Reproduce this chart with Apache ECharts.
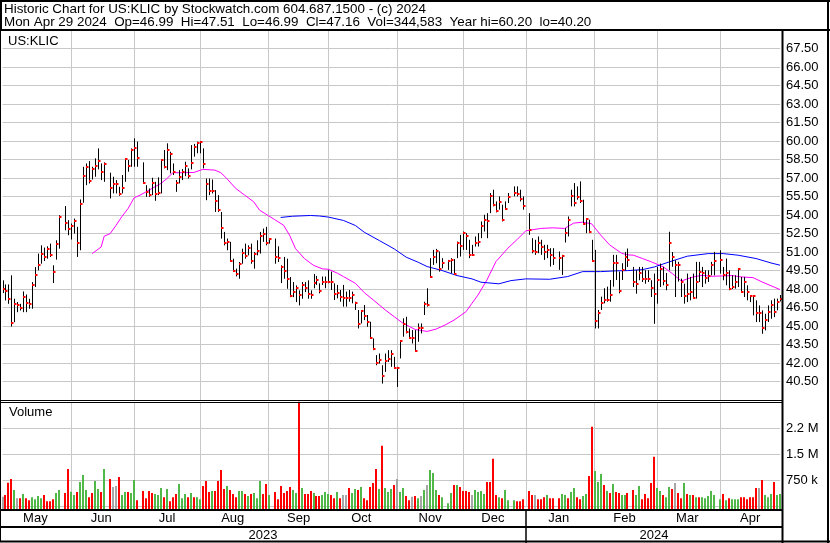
<!DOCTYPE html>
<html><head><meta charset="utf-8">
<script src="https://cdn.jsdelivr.net/npm/echarts@6/dist/echarts.min.js"></script>
<style>html,body{margin:0;padding:0;background:#fff}#c{width:830px;height:543px}</style>
</head><body><div id="c"></div>
<script>
// ---------- DATA ----------
const startDay = [2023, 4, 1];   // May 1 2023
const endDay = [2024, 3, 29];    // Apr 29 2024
const holidays = ['2023-05-29','2023-06-19','2023-07-04','2023-09-04','2023-11-23','2023-12-25','2024-01-01','2024-01-15','2024-02-19','2024-03-29'];
const monthNames = ['Jan','Feb','Mar','Apr','May','Jun','Jul','Aug','Sep','Oct','Nov','Dec'];
const yearLabels = ['2023', '2024'];

const highs = [
 48.70,48.37,48.37,49.11,47.21,46.94,46.80,47.80,47.56,47.21,48.56,49.78,50.87,51.54,51.36,51.46,51.68,49.92,51.95,53.98,54.72,53.58,
 53.31,53.71,53.04,55.26,57.91,58.18,58.37,57.91,58.59,59.40,58.18,58.27,57.43,57.10,56.83,56.29,57.24,58.59,58.46,59.40,60.22,
 59.95,58.27,56.42,56.15,57.02,56.69,57.05,58.51,59.27,59.81,59.13,58.18,56.83,57.64,57.72,58.32,57.78,59.67,59.76,59.95,
 60.00,59.40,56.96,56.96,56.88,56.02,55.61,54.25,52.63,52.09,51.82,50.46,49.65,50.19,51.27,51.68,51.54,51.68,51.00,51.95,52.63,52.90,53.04,
 52.09,52.09,51.46,49.92,50.60,50.46,48.97,48.56,48.29,47.89,48.56,48.56,48.70,47.89,49.22,49.06,48.46,49.01,49.01,49.55,
 49.41,48.46,48.33,47.92,48.33,47.79,47.92,47.79,46.97,46.30,46.30,46.70,45.89,45.34,43.99,42.64,42.77,41.82,42.77,43.04,43.04,42.50,
 41.69,43.86,45.62,45.75,44.80,44.67,44.67,45.21,45.21,46.97,48.06,50.50,51.17,51.25,51.04,50.50,50.36,50.50,50.42,51.85,52.39,
 52.66,52.53,51.99,51.58,52.26,52.53,53.48,54.02,54.15,55.78,56.05,55.10,55.51,54.83,55.10,55.78,56.32,56.32,56.05,55.51,
 54.15,52.12,51.99,52.26,51.99,51.58,51.58,51.31,51.31,51.04,50.77,52.93,53.88,56.05,56.59,56.32,56.73,55.24,53.75,53.61,51.99,
 51.17,46.30,47.38,48.06,48.19,48.73,50.77,50.77,49.41,50.09,51.01,51.28,49.79,49.52,49.79,49.79,49.52,49.52,48.71,49.25,
 49.79,50.06,49.80,49.30,52.64,51.00,50.33,50.20,48.84,48.43,49.25,48.98,49.25,50.20,50.20,49.79,49.52,49.52,50.20,51.01,
 51.14,49.79,50.47,49.52,49.11,49.11,49.65,48.98,48.98,48.30,47.49,47.49,47.08,46.67,46.27,45.99,46.67,47.08,47.22,47.22,47.51
];
const lows = [
 47.67,47.07,46.80,44.96,45.31,46.12,46.26,46.12,46.12,46.40,46.40,48.16,49.51,50.05,50.27,50.46,50.60,48.48,50.38,51.27,52.76,52.36,
 52.01,52.49,50.60,51.14,54.99,56.42,56.56,56.88,57.10,57.70,56.83,56.69,55.34,55.75,55.75,55.56,55.75,56.69,57.51,57.91,57.91,
 57.91,56.56,55.47,55.47,55.61,55.15,55.61,55.75,57.78,57.64,57.37,57.24,55.88,56.56,56.83,57.15,56.96,57.70,58.73,59.00,
 59.00,57.78,55.20,55.61,55.75,54.25,54.25,52.09,51.54,51.14,50.19,49.38,49.02,48.83,50.05,50.46,50.73,50.05,49.65,50.73,50.87,51.82,51.54,
 51.68,50.05,50.19,48.48,48.83,48.02,47.34,47.34,46.94,46.67,47.21,47.75,47.21,47.21,48.06,48.33,47.65,48.33,48.06,48.46,
 47.92,47.11,47.24,46.97,46.57,46.57,46.97,46.84,46.30,44.80,45.21,45.48,44.94,43.99,43.04,41.82,41.96,40.33,41.28,42.09,41.69,41.55,
 40.06,42.37,44.13,44.40,43.99,43.58,42.91,43.72,44.40,45.89,46.57,49.01,49.95,50.09,49.41,49.68,49.55,49.28,49.14,50.50,50.63,
 51.17,51.17,50.50,50.77,51.44,51.44,52.12,52.66,52.12,54.15,54.70,54.21,54.43,53.48,54.43,54.97,55.51,55.51,55.10,54.43,
 52.39,50.90,50.77,50.90,50.77,50.36,50.50,49.82,49.95,49.55,49.14,51.77,52.26,54.70,54.70,55.24,54.97,53.21,52.53,52.53,50.31,
 44.80,44.80,46.30,46.84,46.97,46.97,48.19,48.73,47.65,48.73,49.52,49.79,48.16,47.62,48.71,48.57,48.43,48.57,47.35,45.18,
 46.81,48.16,48.30,47.90,49.52,49.80,47.35,48.60,47.35,46.81,46.94,47.08,47.22,47.22,48.57,48.16,48.43,48.57,49.11,49.11,
 49.25,48.71,48.30,47.90,48.00,48.03,48.16,47.70,47.35,47.08,46.94,45.86,45.32,45.32,44.37,44.64,45.32,45.59,45.72,46.27,46.99
];
const closes = [
 47.99,47.83,47.15,45.28,46.78,46.72,46.45,47.34,46.86,46.78,48.29,49.13,49.95,50.84,50.60,51.25,50.76,49.35,51.63,53.82,53.36,52.87,
 53.09,53.52,51.73,54.88,57.18,57.91,56.75,57.72,57.99,58.40,57.48,58.16,56.21,56.50,56.50,55.72,56.18,58.56,57.99,59.27,59.46,
 58.62,56.61,55.85,55.61,56.61,55.72,55.80,58.46,57.91,59.27,58.92,57.45,56.56,57.10,57.45,57.99,57.15,58.24,59.54,59.86,
 59.92,58.16,56.48,55.93,55.93,55.15,54.39,52.95,51.73,51.82,50.27,49.46,49.19,50.00,50.95,50.65,51.33,50.27,50.81,51.08,52.28,52.44,51.73,
 52.03,50.60,50.51,49.78,49.46,48.83,47.43,47.75,48.05,47.48,48.29,48.10,47.61,47.51,48.52,48.73,47.87,48.60,48.57,48.57,
 48.57,47.57,47.70,47.38,47.30,47.30,47.24,47.51,46.84,45.16,46.25,45.81,45.34,44.05,43.12,42.01,42.23,40.96,42.15,42.34,42.69,41.58,
 41.58,43.80,45.18,44.48,44.05,44.05,42.96,44.86,44.86,46.78,46.70,49.01,50.63,51.09,49.66,50.14,50.31,50.36,49.19,51.74,51.50,
 52.53,52.31,50.77,50.77,51.72,51.80,53.07,53.56,53.53,55.56,54.78,54.29,55.05,53.56,54.51,55.43,55.81,55.70,55.29,54.70,
 52.75,51.12,51.04,51.77,51.44,51.04,51.17,50.77,50.50,50.50,50.69,52.58,53.56,55.56,54.97,55.46,55.16,53.26,53.67,52.66,50.31,
 45.43,46.08,46.89,47.11,47.11,47.51,50.14,50.14,47.87,49.55,50.58,50.33,48.57,48.43,49.30,48.84,48.79,48.79,48.08,47.57,
 48.76,49.65,48.62,48.30,51.74,50.58,49.98,49.98,48.57,47.41,47.57,47.76,47.27,48.57,49.38,49.33,48.90,49.06,49.98,50.28,
 50.39,49.17,49.30,47.97,48.16,48.57,49.63,47.76,48.57,47.76,47.41,47.41,46.05,46.05,44.83,45.52,46.13,46.67,46.13,46.94,47.16
];
// volume in thousands of shares
const volumes = [
 266,315,673,779,460,227,227,344,227,169,256,198,285,227,315,140,140,198,373,460,373,1069,
 411,315,402,692,895,460,256,373,721,489,402,1069,779,547,576,837,315,402,402,373,750,
 169,431,227,431,373,344,315,518,256,489,140,256,344,634,227,344,256,373,256,256,
 198,576,721,402,431,431,721,1040,489,576,460,344,256,431,431,344,285,344,373,227,721,344,634,
 315,402,198,576,373,431,547,460,373,3005,518,344,344,431,373,285,285,315,402,344,
 315,227,402,227,315,315,518,373,489,460,547,227,169,547,663,1069,489,1737,518,402,489,605,
 779,402,518,285,169,266,285,227,285,460,605,1040,953,460,315,256,82,373,605,605,547,
 431,431,402,315,460,402,431,344,692,692,1360,315,256,227,460,169,169,140,140,198,
 431,315,315,198,198,256,315,227,227,227,344,315,227,402,518,256,198,285,344,866,2289,
 1011,692,924,605,431,373,634,402,373,315,315,373,460,315,576,198,344,227,663,1418,
 518,431,315,256,547,489,663,373,227,663,344,315,315,256,256,256,227,285,431,315,
 198,344,169,227,198,198,198,256,256,198,256,256,518,518,750,315,256,344,692,315,345
];
// volume bar colour: g = up, r = down, n = unchanged
const volDir = (
 'nrrrgnrgrrggggrrrrggrr' + 'ggrgggrrggrgrnnrggrgg' + 'rrrrrgggrgrrrgggrgrg' +
 'grrrgrrrrgrrrggrgrgggrr' + 'grrrrrrggrgrrrgrrggg' + 'rrgrnnrggrgrrrrrgrgggr' +
 'nggrrnrgngngggrgggrgr' + 'rrrnggggrrrrgrgggrrr' + 'rrnrrrgrrrggrggrrggrr' +
 'gggrgrgrrggrrggrrrrr' + 'ggrggrnrrgrgrgrggggg' + 'grgrgggrrrrrrnrgggrgg'
).split('');
// moving averages: [weekday slot, value]
const maShort = [[30,50.87],[33,51.41],[34,52.28],[36,52.49],[38,53.17],[40,53.90],[42,54.53],[44,55.39],[46,55.61],[48,55.88],[51,56.29],[53,56.56],[55,56.96],[57,57.43],[60,57.43],[64,57.45],[67,57.70],[71,57.64],[73,57.43],[75,56.96],[78,56.15],[81,55.61],[84,55.07],[86,54.39],[89,53.93],[91,53.63],[94,53.17],[96,52.36],[98,51.27],[101,50.46],[104,49.92],[107,49.63],[109,49.60],[112,49.28],[114,49.01],[118,48.46],[121,47.70],[124,47.11],[128,46.30],[131,45.75],[134,45.21],[138,44.72],[142,44.56],[145,44.75],[148,45.08],[151,45.48],[155,46.16],[157,46.84],[159,47.51],[162,48.73],[165,50.22],[169,51.31],[172,51.99],[175,52.72],[180,52.91],[184,52.96],[188,52.91],[191,53.34],[194,53.42],[197,53.29],[200,52.39],[203,51.58],[207,50.90],[209,50.77],[211,50.74],[214,50.47],[217,50.20],[221,49.79],[224,49.25],[227,48.65],[231,48.98],[234,49.11],[237,49.03],[241,49.06],[244,49.09],[247,48.98],[251,48.92],[254,48.57],[258,48.16],[260,47.95]];
const maLong = [[93,53.80],[97,53.90],[103,53.96],[106,53.92],[109,53.83],[114,53.56],[118,53.15],[121,52.60],[126,51.93],[131,51.25],[135,50.58],[139,50.17],[142,49.82],[147,49.50],[152,49.09],[157,48.82],[160,48.55],[166,48.42],[170,48.68],[175,48.82],[183,48.79],[189,49.01],[194,49.41],[200,49.41],[205,49.47],[209,49.49],[214,49.57],[218,49.79],[224,50.28],[229,50.66],[236,50.87],[241,50.87],[246,50.74],[252,50.47],[257,50.11],[260,49.93]];
const volTickLabels = {750000: '750 k', 1500000: '1.5 M', 2250000: '2.2 M'};

// ---------- BUILD ----------
const pad = n => String(n).padStart(2, '0');
const iso = d => d.getUTCFullYear() + '-' + pad(d.getUTCMonth() + 1) + '-' + pad(d.getUTCDate());
const cats = [];
const endT = Date.UTC(endDay[0], endDay[1], endDay[2]);
for (let d = new Date(Date.UTC(startDay[0], startDay[1], startDay[2])); d.getTime() <= endT; d.setUTCDate(d.getUTCDate() + 1)) {
  const wd = d.getUTCDay();
  if (wd > 0 && wd < 6) cats.push(iso(d));
}
const tradeSlots = cats.map((c, i) => holidays.includes(c) ? -1 : i).filter(i => i >= 0);

// month grid lines: first of month, weekend mapped to previous Friday
const monthLines = [];
for (let y = 2023, m = 5; y < 2024 || m <= 3; m++) {
  if (m > 11) { m = 0; y++; }
  const d = new Date(Date.UTC(y, m, 1));
  while (d.getUTCDay() === 0 || d.getUTCDay() === 6) d.setUTCDate(d.getUTCDate() - 1);
  monthLines.push(cats.indexOf(iso(d)));
  if (y === 2024 && m === 3) break;
}
const bounds = [0].concat(monthLines, [cats.length - 1]);
const monthLabelAt = {};
for (let i = 0; i < bounds.length - 1; i++) {
  const mid = Math.floor((bounds[i] + bounds[i + 1]) / 2);
  const mm = parseInt(cats[mid].slice(5, 7), 10) - 1;
  monthLabelAt[mid] = monthNames[mm];
}
const lineSet = new Set(monthLines);

const priceData = tradeSlots.map((s, i) => [s, highs[i], lows[i], closes[i]]);
const volData = tradeSlots.map((s, i) => [s, volumes[i] * 1000]);
const volColor = {g: '#4fb848', r: '#ff0000', n: '#a6a6a6'};

const FONT = 'Arial, "Liberation Sans", sans-serif';
const chart = echarts.init(document.getElementById('c'), null, {renderer: 'canvas'});
const gridCol = '#c8c8c8';

chart.setOption({
  animation: false,
  backgroundColor: '#fff',
  grid: [
    {left: 2.5, right: 50, top: 30, height: 370},
    {left: 2.5, right: 50, top: 402, height: 104}
  ],
  xAxis: [0, 1].map(k => ({
    type: 'category', gridIndex: k, data: cats, boundaryGap: false,
    axisLine: {show: false}, axisTick: {show: false},
    axisLabel: k === 1 ? {
      show: true, interval: (idx) => monthLabelAt[idx] !== undefined,
      formatter: (v, idx) => monthLabelAt[idx] || '',
      color: '#000', fontSize: 13, fontFamily: FONT, margin: 6
    } : {show: false},
    splitLine: {show: true, interval: (idx) => lineSet.has(idx), lineStyle: {color: gridCol, width: 1}}
  })),
  yAxis: [
    {type: 'value', gridIndex: 0, position: 'right', min: 39, max: 69, interval: 1.5,
     axisLine: {show: false}, axisTick: {show: false},
     axisLabel: {color: '#000', fontSize: 13, fontFamily: FONT, margin: 6,
       formatter: v => (v <= 39.01 || v >= 68.99) ? '' : v.toFixed(2)},
     splitLine: {lineStyle: {color: gridCol, width: 1}}},
    {type: 'value', gridIndex: 1, position: 'right', min: 0, max: 3000000, interval: 750000,
     axisLine: {show: false}, axisTick: {show: false},
     axisLabel: {color: '#000', fontSize: 13, fontFamily: FONT, margin: 6,
       formatter: v => volTickLabels[v] || ''},
     splitLine: {lineStyle: {color: gridCol, width: 1}}}
  ],
  series: [
    {type: 'line', xAxisIndex: 0, yAxisIndex: 0, data: maShort, symbol: 'none', silent: true,
     lineStyle: {color: '#ff00ff', width: 1}, z: 3},
    {type: 'line', xAxisIndex: 0, yAxisIndex: 0, data: maLong, symbol: 'none', silent: true,
     lineStyle: {color: '#0000ff', width: 1}, z: 3},
    {type: 'custom', xAxisIndex: 0, yAxisIndex: 0, data: priceData, z: 4,
     encode: {x: 0, y: [1, 2, 3]},
     renderItem: (params, api) => {
       const x = api.value(0);
       const pH = api.coord([x, api.value(1)]);
       const pL = api.coord([x, api.value(2)]);
       const pC = api.coord([x, api.value(3)]);
       const cx = Math.round(pH[0]) + 0.5;
       return {type: 'group', children: [
         {type: 'line', shape: {x1: cx, y1: pH[1], x2: cx, y2: pL[1]}, style: {stroke: '#000', lineWidth: 1}},
         {type: 'rect', shape: {x: cx - 0.5, y: Math.round(pC[1]) - 1, width: 2.5, height: 2}, style: {fill: '#ff0000'}}
       ]};
     }},
    {type: 'custom', xAxisIndex: 1, yAxisIndex: 1, data: volData, z: 4,
     encode: {x: 0, y: 1},
     renderItem: (params, api) => {
       const x = api.value(0);
       const pT = api.coord([x, api.value(1)]);
       const p0 = api.coord([x, 0]);
       const cx = Math.round(pT[0]);
       return {type: 'rect', shape: {x: cx - 1, y: pT[1], width: 2, height: p0[1] + 3 - pT[1]},
               style: {fill: volColor[volDir[params.dataIndex]] || '#a6a6a6'}};
     }}
  ],
  graphic: [
    {type: 'rect', shape: {x: 0.5, y: 0.5, width: 828, height: 541}, style: {fill: 'none', stroke: '#000', lineWidth: 1}, z: 100},
    {type: 'line', shape: {x1: 0, y1: 1, x2: 830, y2: 1}, style: {stroke: '#000', lineWidth: 2}, z: 100},
    {type: 'line', shape: {x1: 1, y1: 0, x2: 1, y2: 30}, style: {stroke: '#000', lineWidth: 2}, z: 100},
    {type: 'line', shape: {x1: 828, y1: 0, x2: 828, y2: 543}, style: {stroke: '#000', lineWidth: 2}, z: 100},
    {type: 'line', shape: {x1: 0, y1: 30, x2: 830, y2: 30}, style: {stroke: '#000', lineWidth: 2}, z: 100},
    {type: 'line', shape: {x1: 782.5, y1: 30, x2: 782.5, y2: 543}, style: {stroke: '#000', lineWidth: 2}, z: 100},
    {type: 'line', shape: {x1: 0, y1: 400.5, x2: 782, y2: 400.5}, style: {stroke: '#000', lineWidth: 1}, z: 100},
    {type: 'line', shape: {x1: 0, y1: 402.5, x2: 782, y2: 402.5}, style: {stroke: '#000', lineWidth: 1}, z: 100},
    {type: 'line', shape: {x1: 0, y1: 510, x2: 782, y2: 510}, style: {stroke: '#000', lineWidth: 2}, z: 100},
    {type: 'line', shape: {x1: 0, y1: 527, x2: 782, y2: 527}, style: {stroke: '#000', lineWidth: 2}, z: 100},
    {type: 'line', shape: {x1: 0, y1: 541.5, x2: 830, y2: 541.5}, style: {stroke: '#000', lineWidth: 2}, z: 100},
    {type: 'line', shape: {x1: 526, y1: 510, x2: 526, y2: 543}, style: {stroke: '#000', lineWidth: 1.5}, z: 100},
    {type: 'text', left: 4, top: 3, z: 101, style: {text: 'Historic Chart for US:KLIC by Stockwatch.com 604.687.1500 - (c) 2024', font: '13.4px ' + FONT, fill: '#000'}},
    {type: 'text', left: 4, top: 16, z: 101, style: {text: 'Mon Apr 29 2024  Op=46.99  Hi=47.51  Lo=46.99  Cl=47.16  Vol=344,583  Year hi=60.20  lo=40.20', font: '13.4px ' + FONT, fill: '#000'}},
    {type: 'text', left: 8, top: 35, z: 101, style: {text: 'US:KLIC', font: '13px ' + FONT, fill: '#000', backgroundColor: '#fff'}},
    {type: 'text', left: 9, top: 406, z: 101, style: {text: 'Volume', font: '13px ' + FONT, fill: '#000'}},
    {type: 'text', x: 263, y: 535, z: 101, style: {text: yearLabels[0], font: '13px ' + FONT, fill: '#000', align: 'center', verticalAlign: 'middle'}},
    {type: 'text', x: 654, y: 535, z: 101, style: {text: yearLabels[1], font: '13px ' + FONT, fill: '#000', align: 'center', verticalAlign: 'middle'}}
  ]
});
</script>
</body></html>
